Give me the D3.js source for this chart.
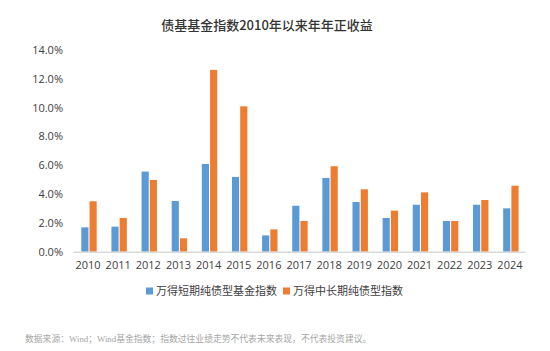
<!DOCTYPE html>
<html>
<head>
<meta charset="utf-8">
<script src="https://cdn.jsdelivr.net/npm/d3@7"></script>
<style>
  html, body { margin: 0; padding: 0; background: #fff; }
  #chart { width: 550px; height: 351px; }
  text { font-family: "Noto Sans CJK SC", "Noto Sans", sans-serif; }
</style>
</head>
<body>
<div id="chart"></div>
<script>
const years = ["2010","2011","2012","2013","2014","2015","2016","2017","2018","2019","2020","2021","2022","2023","2024"];
const shortBond = [1.69, 1.74, 5.56, 3.52, 6.09, 5.19, 1.13, 3.19, 5.12, 3.45, 2.34, 3.26, 2.13, 3.26, 3.01];
const longBond  = [3.50, 2.34, 4.98, 0.93, 12.62, 10.09, 1.55, 2.13, 5.93, 4.33, 2.85, 4.12, 2.13, 3.59, 4.58];
const seriesNames = ["万得短期纯债型基金指数", "万得中长期纯债型指数"];
const colors = ["#5B9BD5", "#ED7D31"];
const yTicks = [0, 2, 4, 6, 8, 10, 12, 14];
const title = "债基基金指数2010年以来年年正收益";
const footnote = "数据来源：Wind；Wind基金指数；指数过往业绩走势不代表未来表现，不代表投资建议。";

const W = 550, H = 351;
const margin = {top: 50, right: 25, bottom: 99.3, left: 73};

const svg = d3.select("#chart").append("svg")
    .attr("width", W)
    .attr("height", H);

const x0 = d3.scaleBand()
    .domain(years)
    .range([margin.left, W - margin.right])
    .paddingInner(0);

const x1 = d3.scaleBand()
    .domain([0, 1])
    .range([8.3, 8.3 + 15.4])
    .paddingInner(0.13);

const y = d3.scaleLinear()
    .domain([0, 14])
    .range([H - margin.bottom, margin.top]);

// title
svg.append("text")
    .attr("x", 267).attr("y", 30)
    .attr("text-anchor", "middle")
    .attr("font-size", "13px")
    .attr("font-weight", "500")
    .attr("fill", "#333")
    .text(title);

// y axis (labels only)
svg.append("g")
    .attr("transform", `translate(${margin.left},0)`)
    .call(d3.axisLeft(y).tickValues(yTicks).tickSize(0).tickPadding(10).tickFormat(d => d.toFixed(1) + "%"))
    .call(g => g.select(".domain").remove())
    .call(g => g.selectAll("text")
        .attr("font-size", "11px")
        .attr("fill", "#404040")
        .style("font-family", "'Open Sans', 'Noto Sans', sans-serif"));

// bars
const rows = years.map((yr, i) => ({year: yr, vals: [shortBond[i], longBond[i]]}));

const groups = svg.append("g").selectAll("g")
    .data(rows)
    .join("g")
    .attr("transform", d => `translate(${x0(d.year)},0)`);

groups.selectAll("rect")
    .data(d => d.vals.map((v, k) => ({k, v})))
    .join("rect")
    .attr("x", d => x1(d.k))
    .attr("width", x1.bandwidth())
    .attr("y", d => y(d.v))
    .attr("height", d => y(0) - y(d.v))
    .attr("fill", d => colors[d.k]);

// x axis
svg.append("g")
    .attr("transform", `translate(0,${y(0)})`)
    .call(d3.axisBottom(x0).tickSize(0).tickPadding(10))
    .call(g => g.select(".domain").attr("stroke", "#d9d9d9").attr("stroke-width", 1.5))
    .call(g => g.selectAll("text")
        .attr("font-size", "11px")
        .attr("fill", "#404040")
        .style("font-family", "'Open Sans', 'Noto Sans', sans-serif"));

// legend
const legendX = [146, 283];
const legend = svg.append("g").selectAll("g")
    .data(seriesNames)
    .join("g")
    .attr("transform", (d, i) => `translate(${legendX[i]},291)`);

legend.append("rect")
    .attr("x", 0).attr("y", -3.5)
    .attr("width", 7).attr("height", 7)
    .attr("fill", (d, i) => colors[i]);

legend.append("text")
    .attr("x", 10).attr("y", 0)
    .attr("dy", "0.35em")
    .attr("font-size", "11px")
    .attr("fill", "#404040")
    .text(d => d);

// footnote
svg.append("text")
    .attr("x", 25).attr("y", 342)
    .attr("font-size", "8.8px")
    .attr("fill", "#a6a6a6")
    .style("font-family", "'Liberation Serif', 'Noto Sans CJK SC', serif")
    .text(footnote);
</script>
</body>
</html>
